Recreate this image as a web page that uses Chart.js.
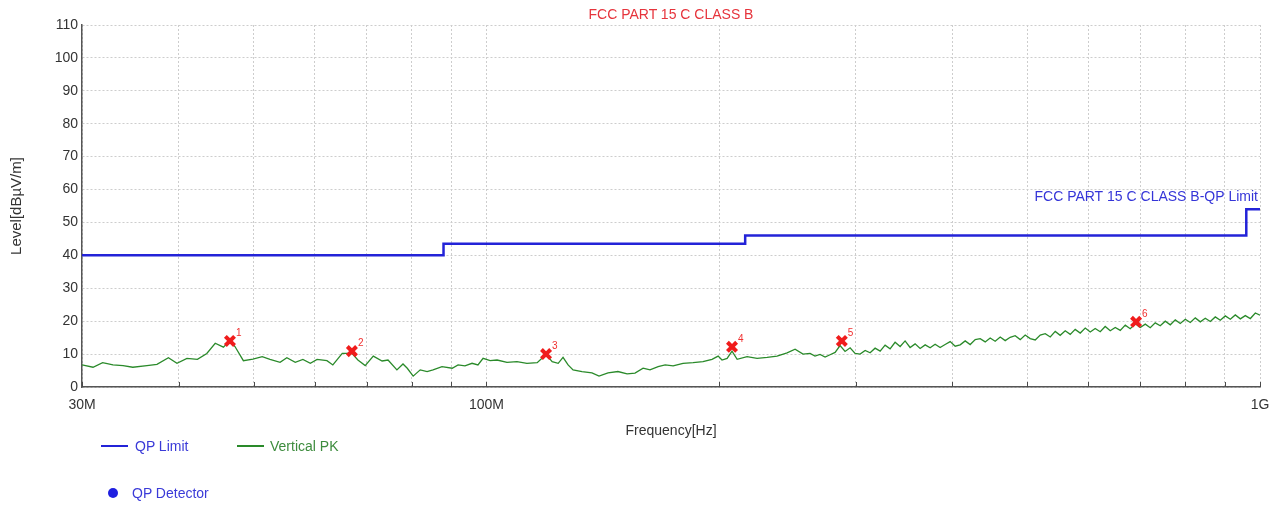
<!DOCTYPE html>
<html>
<head>
<meta charset="utf-8">
<script src="https://cdn.jsdelivr.net/npm/chart.js@4.4.1/dist/chart.umd.min.js"></script>
<style>
  html, body { margin: 0; padding: 0; background: #fff; }
  #wrap { position: relative; width: 1276px; height: 505px; overflow: hidden;
          font-family: "Liberation Sans", Arial, sans-serif; }
  #emi { position: absolute; left: 0; top: 0; }
  .title { position: absolute; left: 371px; width: 600px; top: 6px; text-align: center;
           font-size: 14px; line-height: 16px; color: #e6343c; }
  .lg { position: absolute; font-size: 14px; line-height: 16px; white-space: nowrap; }
  .lg .ln { position: absolute; top: 7px; width: 27px; height: 2px; }
  .lg .dot { position: absolute; top: 3px; width: 10px; height: 10px; border-radius: 50%; }
</style>
</head>
<body>
<div id="wrap">
  <canvas id="emi" width="1276" height="505"></canvas>
  <div class="title">FCC PART 15 C CLASS B</div>
  <div class="lg" style="left:101px;top:438px;color:#3a3ad8;">
    <span class="ln" style="left:0;background:#2323d8;"></span>
    <span style="margin-left:34px;">QP Limit</span>
  </div>
  <div class="lg" style="left:237px;top:438px;color:#3d8c3d;">
    <span class="ln" style="left:0;background:#2a8a2a;"></span>
    <span style="margin-left:33px;">Vertical PK</span>
  </div>
  <div class="lg" style="left:108px;top:485px;color:#3a3ad8;">
    <span class="dot" style="left:0;background:#1f1fe0;"></span>
    <span style="margin-left:24px;">QP Detector</span>
  </div>
</div>
<script>
// Datos de la medida (frecuencia en MHz, nivel en dBuV/m)
const limitName = 'FCC PART 15 C CLASS B-QP Limit';
const limitFreq = [30, 88, 216, 960, 1000];
const limitLevel = [40, 43.5, 46, 54, 54];

const traceFreq = [
  30.0, 31.0, 31.9, 32.9, 33.9, 34.9, 36.4, 37.5, 38.8, 39.8,
  41.0, 42.3, 43.5, 44.6, 45.7, 46.6, 47.3, 48.5, 49.9, 51.3,
  52.5, 54.1, 55.2, 56.6, 57.9, 59.2, 60.4, 62.2, 63.3, 65.1,
  67.0, 68.2, 69.7, 71.4, 73.3, 74.6, 76.6, 78.0, 79.0, 80.4,
  82.1, 83.8, 85.3, 87.6, 90.3, 91.9, 93.8, 95.8, 97.5, 99.0,
  101.1, 103.2, 106.3, 109.5, 112.8, 116.3, 119.4, 121.6, 123.8, 125.6,
  127.5, 129.4, 132.9, 136.9, 139.8, 143.6, 147.9, 152.0, 155.6, 159.4,
  162.7, 166.7, 170.2, 174.3, 179.5, 185.0, 190.5, 195.7, 199.3, 201.6,
  204.7, 207.7, 210.9, 217.2, 223.8, 230.6, 237.5, 244.7, 250.6, 256.6,
  262.0, 265.9, 269.9, 274.0, 278.1, 282.3, 286.5, 290.8, 295.2, 299.6,
  304.1, 308.7, 313.3, 318.0, 322.8, 327.6, 332.5, 337.5, 342.6, 347.7,
  352.9, 358.2, 363.6, 369.1, 374.6, 380.2, 385.9, 391.7, 397.6, 403.6,
  409.6, 415.8, 422.0, 428.4, 434.8, 441.3, 447.9, 454.6, 461.5, 468.4,
  475.4, 482.5, 489.8, 497.1, 504.6, 512.2, 519.9, 527.7, 535.6, 543.6,
  551.7, 560.0, 568.4, 576.9, 585.6, 594.4, 603.3, 612.3, 621.5, 630.8,
  640.3, 649.9, 659.7, 669.6, 679.6, 689.8, 700.2, 710.7, 721.3, 732.1,
  743.1, 754.3, 765.6, 777.1, 788.7, 800.6, 812.6, 824.8, 837.2, 849.7,
  862.5, 875.4, 888.5, 901.9, 915.4, 929.1, 943.1, 957.2, 971.6, 986.2,
  1000.0
];
const traceLevel = [
  6.7, 6.0, 7.4, 6.7, 6.5, 6.0, 6.5, 6.9, 8.9, 7.2,
  8.7, 8.4, 10.2, 13.3, 12.1, 14.1, 12.3, 8.0, 8.5, 9.2,
  8.4, 7.5, 8.9, 7.5, 8.4, 7.2, 8.4, 8.0, 6.7, 10.2,
  10.2, 8.2, 6.5, 9.4, 7.9, 8.2, 5.2, 7.0, 5.7, 3.3,
  5.2, 4.7, 5.2, 6.2, 5.7, 6.7, 6.4, 7.2, 6.7, 8.7,
  8.0, 8.2, 7.5, 7.7, 7.2, 7.4, 9.9, 7.7, 7.2, 9.0,
  6.7, 5.2, 4.7, 4.3, 3.3, 4.3, 4.7, 4.0, 4.2, 5.7,
  5.2, 6.2, 6.7, 6.4, 7.2, 7.4, 7.7, 8.4, 9.4, 8.2,
  8.7, 10.9, 8.4, 9.2, 8.7, 9.0, 9.4, 10.4, 11.5, 10.0,
  10.2, 9.4, 9.9, 9.1, 9.8, 10.5, 12.6, 10.8, 11.9, 10.2,
  10.0, 11.1, 10.4, 11.8, 10.9, 12.7, 11.6, 13.6, 12.3, 14.0,
  12.0, 13.1, 11.7, 12.8, 11.9, 13.0, 12.0, 12.9, 13.8, 12.4,
  12.8, 14.0, 12.9, 14.4, 14.7, 13.7, 14.9, 13.9, 15.2, 14.1,
  15.1, 15.6, 14.4, 15.8, 14.7, 14.3, 15.8, 16.2, 15.2, 16.9,
  15.7, 17.1, 16.0, 17.5, 16.4, 17.9, 16.7, 17.8, 16.8, 18.4,
  17.1, 18.1, 17.2, 18.8, 17.7, 19.2, 18.1, 19.1, 18.0, 19.5,
  18.6, 20.0, 18.9, 20.4, 19.3, 20.6, 19.6, 21.0, 19.8, 20.9,
  19.9, 21.3, 20.3, 21.6, 20.6, 21.9, 20.7, 21.7, 20.8, 22.5,
  21.8
];

const markerNames = ['1', '2', '3', '4', '5', '6'];
const markerFreq = [46.6, 67.0, 119.4, 207.7, 288.0, 691.5];
const markerLevel = [14.0, 10.9, 10.0, 12.2, 14.0, 19.8];

const xTickValues = [30, 40, 50, 60, 70, 80, 90, 100, 200, 300, 400, 500, 600, 700, 800, 900, 1000];
const xTickLabels = { 30: '30M', 100: '100M', 1000: '1G' };
const yMin = 0;
const yMax = 110;
const yStep = 10;

function toPoints(xs, ys) {
  return xs.map((x, i) => ({ x: x, y: ys[i] }));
}

// Marcas cortas hacia dentro sobre el eje X
const innerTicksPlugin = {
  id: 'innerTicks',
  afterDraw(chart) {
    const xScale = chart.scales.x;
    const bottom = chart.chartArea.bottom;
    const ctx = chart.ctx;
    ctx.save();
    ctx.strokeStyle = '#4a4a4a';
    ctx.lineWidth = 1;
    xScale.ticks.forEach((t) => {
      const px = Math.round(xScale.getPixelForValue(t.value)) + 0.5;
      ctx.beginPath();
      ctx.moveTo(px, bottom);
      ctx.lineTo(px, bottom - 5);
      ctx.stroke();
    });
    ctx.restore();
  }
};

// Numeros de los marcadores y texto del limite
const labelsPlugin = {
  id: 'labelsPlugin',
  afterDatasetsDraw(chart) {
    const ctx = chart.ctx;
    ctx.save();
    ctx.font = '10px "Liberation Sans", Arial, sans-serif';
    ctx.fillStyle = '#f03030';
    ctx.textAlign = 'left';
    ctx.textBaseline = 'middle';
    const meta = chart.getDatasetMeta(0);
    meta.data.forEach((el, i) => {
      ctx.fillText(markerNames[i], el.x + 6, el.y - 8);
    });

    const yScale = chart.scales.y;
    const yPx = yScale.getPixelForValue(limitLevel[limitLevel.length - 1]);
    ctx.font = '14px "Liberation Sans", Arial, sans-serif';
    ctx.fillStyle = '#3535d8';
    ctx.textAlign = 'right';
    ctx.fillText(limitName, chart.chartArea.right - 2, yPx - 12);
    ctx.restore();
  }
};

Chart.defaults.font.family = '"Liberation Sans", Arial, sans-serif';

new Chart(document.getElementById('emi'), {
  type: 'scatter',
  data: {
    datasets: [
      {
        label: 'QP Detector marks',
        data: toPoints(markerFreq, markerLevel),
        showLine: false,
        order: 0,
        pointStyle: 'crossRot',
        pointRadius: 6.5,
        pointBorderWidth: 4,
        pointBorderColor: '#f01c1c',
        pointBackgroundColor: '#f01c1c'
      },
      {
        label: 'QP Limit',
        data: toPoints(limitFreq, limitLevel),
        showLine: true,
        stepped: 'before',
        order: 1,
        borderColor: '#2323d8',
        borderWidth: 2.5,
        pointRadius: 0
      },
      {
        label: 'Vertical PK',
        data: toPoints(traceFreq, traceLevel),
        showLine: true,
        order: 2,
        borderColor: '#2a8a2a',
        borderWidth: 1.3,
        pointRadius: 0,
        tension: 0
      }
    ]
  },
  options: {
    responsive: false,
    animation: false,
    layout: { padding: { left: 0, right: 16, top: 25, bottom: 61 } },
    plugins: {
      legend: { display: false },
      tooltip: { enabled: false },
      title: { display: false }
    },
    scales: {
      x: {
        type: 'logarithmic',
        min: 30,
        max: 1000,
        afterBuildTicks(scale) {
          scale.ticks = xTickValues.map((v) => ({ value: v }));
        },
        afterFit(scale) {
          scale.height = 57;
          scale.paddingLeft = 0;
          scale.paddingRight = 0;
        },
        ticks: {
          autoSkip: false,
          maxRotation: 0,
          padding: 10,
          color: '#333',
          font: { size: 14 },
          callback(value) {
            return xTickLabels[value] || '';
          }
        },
        grid: { color: '#cdcdcd', drawTicks: false },
        border: { color: '#555', width: 1.5, dash: [2, 2] },
        title: {
          display: true,
          text: 'Frequency[Hz]',
          color: '#333',
          font: { size: 14 },
          padding: { top: 4, bottom: 4 }
        }
      },
      y: {
        min: yMin,
        max: yMax,
        afterFit(scale) {
          scale.width = 82;
        },
        ticks: {
          stepSize: yStep,
          padding: 4,
          color: '#333',
          font: { size: 14 }
        },
        grid: { color: '#cdcdcd', drawTicks: false },
        border: { color: '#555', width: 1.5, dash: [2, 2] },
        title: {
          display: true,
          text: 'Level[dBµV/m]',
          color: '#333',
          font: { size: 15 },
          padding: { top: 8, bottom: 0 }
        }
      }
    }
  },
  plugins: [innerTicksPlugin, labelsPlugin]
});
</script>
</body>
</html>
